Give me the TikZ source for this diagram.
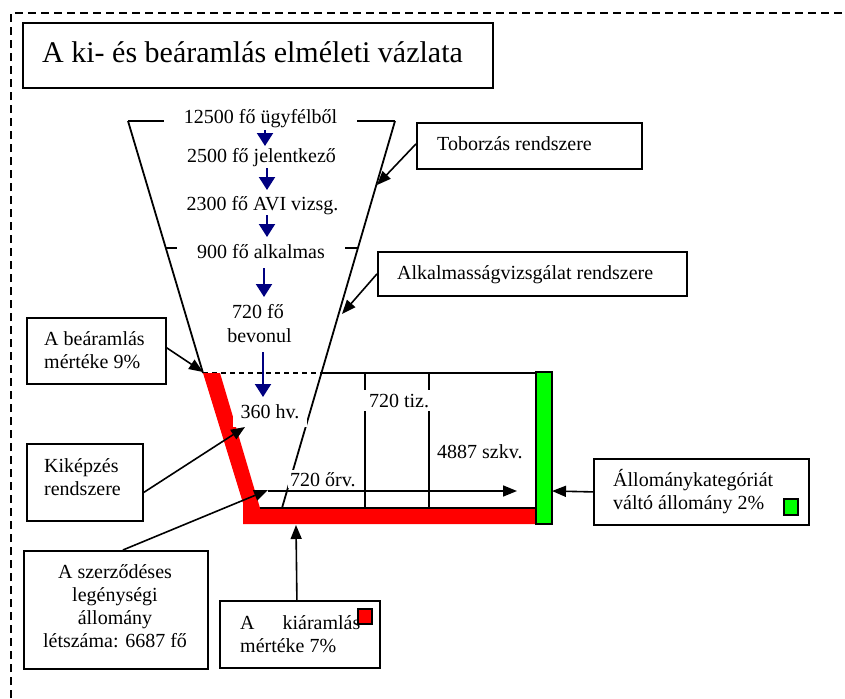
\documentclass[tikz,border=0pt]{standalone}
\usepackage{fontspec}
\setmainfont{Liberation Serif}
\usetikzlibrary{arrows.meta}
\definecolor{navyblue}{RGB}{0,0,128}
\definecolor{fgreen}{RGB}{0,255,0}
\definecolor{fred}{RGB}{255,0,0}
\begin{document}
\begin{tikzpicture}[x=1pt,y=-1pt,
  every node/.style={font=\fontsize{20}{24}\selectfont},
  lbl/.style={inner sep=0pt, anchor=base west},
  clbl/.style={inner sep=0pt, anchor=base},
  cover/.style={fill=white, inner xsep=20pt, inner ysep=3pt, anchor=base},
  box/.style={draw, line width=1.8pt, inner sep=0pt, anchor=north west},
  arr/.style={line width=1.6pt, -{Triangle[length=14pt,width=11pt]}},
  barr/.style={draw=navyblue, line width=2pt, -{Triangle[length=13pt,width=16pt]}, color=navyblue},
  fl/.style={line width=1.8pt},
]
\useasboundingbox (0,0) rectangle (845,698);
% outer dashed frame
\draw[line width=2pt, dash pattern=on 8pt off 5pt] (11,698) -- (11,13) -- (845,13);

% boxes
\node[box, minimum width=470pt, minimum height=65pt] (title) at (22,22) {};
\node[box, minimum width=225pt, minimum height=46pt] (tob) at (416,122) {};
\node[box, minimum width=309pt, minimum height=44pt] (alk) at (377,251) {};
\node[box, minimum width=139pt, minimum height=66pt] (bea) at (26,317) {};
\node[box, minimum width=116pt, minimum height=77pt] (kik) at (26,443) {};
\node[box, minimum width=184pt, minimum height=118pt] (szer) at (23,550) {};
\node[box, minimum width=160pt, minimum height=67pt] (kiar) at (219,600) {};
\node[box, minimum width=215pt, minimum height=66pt] (all) at (593,458) {};

% box texts
\node[lbl, font=\fontsize{30}{36}\selectfont] (titletxt) at (42,63) {A ki- és beáramlás elméleti vázlata};
\node[lbl] (tobtxt) at (437,150) {Toborzás rendszere};
\node[lbl] (alktxt) at (397,279) {Alkalmasságvizsgálat rendszere};
\node[lbl] (bea1) at (44,345) {A beáramlás};
\node[lbl] (bea2) at (44,368) {mértéke 9\%};
\node[lbl] (kik1) at (44,472) {Kiképzés};
\node[lbl] (kik2) at (44,495) {rendszere};
\node[clbl] (sz1) at (115,578) {A szerződéses};
\node[clbl] (sz2) at (115,601) {legénységi};
\node[clbl] (sz3) at (115,624) {állomány};
\node[clbl] (sz4) at (115,647) {létszáma: 6687 fő};
\node[lbl] (ki1) at (240,629) {A\hspace{28pt}kiáramlás};
\node[lbl] (ki2) at (240,652) {mértéke 7\%};
\node[lbl] (al1) at (613,486) {Állománykategóriát};
\node[lbl] (al2) at (613,509) {váltó állomány 2\%};

% funnel lines
\draw[fl] (128,121) -- (203,373);
\draw[fl] (395,121) -- (282,508);
\draw[fl] (128,121) -- (395,121);
\draw[fl] (165.8,248) -- (358,248);
% stock rectangle
\draw[fl, dash pattern=on 5pt off 4pt] (203,373) -- (321,373);
\draw[fl] (321,373) -- (536,373);
\draw[fl] (365,373) -- (365,508);
\draw[fl] (429,373) -- (429,508);
% red outflow band
\fill[fred] (203,373) -- (220,373) -- (260,508) -- (536,508) -- (536,524) -- (243,524) -- (243,503) -- cycle;
\draw[fl] (260,508) -- (536,508);
% green bar
\draw[line width=1.5pt, fill=fgreen] (536,372) rectangle (552,524);

% funnel texts
\node[cover] (f1) at (260.5,124) {12500 fő ügyfélből};
\node[clbl] (f2) at (261.5,162) {2500 fő jelentkező};
\node[clbl] (f3) at (262.5,210) {2300 fő AVI vizsg.};
\node[cover] (f4) at (261,258) {900 fő alkalmas};
\node[clbl] (f5a) at (258,318) {720 fő};
\node[clbl] (f5b) at (259.5,342) {bevonul};
\node[cover, inner xsep=8pt, inner ysep=1.5pt, text depth=7.5pt] (hv) at (270,418) {360 hv.};
\node[cover, inner xsep=8pt, inner ysep=3.5pt] (tiz) at (399,407) {720 tiz.};
\node[lbl] (szkv) at (437,458) {4887 szkv.};
\node[lbl, fill=white, inner sep=2pt] (orv) at (288,486) {720 őrv.};

% blue flow arrows
\coordinate (b1s) at (265,130); \coordinate (b1e) at (265,146);
\coordinate (b2s) at (267,168); \coordinate (b2e) at (267,190);
\coordinate (b3s) at (267,215); \coordinate (b3e) at (267,237);
\coordinate (b4s) at (264,268); \coordinate (b4e) at (264,297);
\coordinate (b5s) at (263,352); \coordinate (b5e) at (263,397);
\draw[barr] (b1s) -- (b1e);
\draw[barr] (b2s) -- (b2e);
\draw[barr] (b3s) -- (b3e);
\draw[barr] (b4s) -- (b4e);
\draw[barr] (b5s) -- (b5e);

% pointer targets
\coordinate (pTob) at (377,185);
\coordinate (pAlk) at (342,314);
\coordinate (pBea) at (203,372);
\coordinate (pKik) at (245,427);
\coordinate (pSzer) at (268,490);
\coordinate (pKiar) at (296,525);
\coordinate (pAll) at (552,491);
\coordinate (hA) at (268,491);
\coordinate (hB) at (517,491);

\draw[arr] ([yshift=2pt]tob.west) -- (pTob);
\draw[arr] (alk.west) -- (pAlk);
\draw[arr] ([yshift=3pt]bea.east) -- (pBea);
\draw[arr] ([yshift=-10pt]kik.east) -- (pKik);
\draw[arr] ([xshift=7pt]szer.north) -- (pSzer);
\draw[arr] ([xshift=-3pt]kiar.north) -- (pKiar);
\draw[arr] (all.west) -- (pAll);
\draw[arr] (hA) -- (hB);

% small legend squares
\draw[line width=1.5pt, fill=fred] (358,609) rectangle (372,624);
\draw[line width=1.5pt, fill=fgreen] (784,499) rectangle (798,515);
\end{tikzpicture}
\end{document}
